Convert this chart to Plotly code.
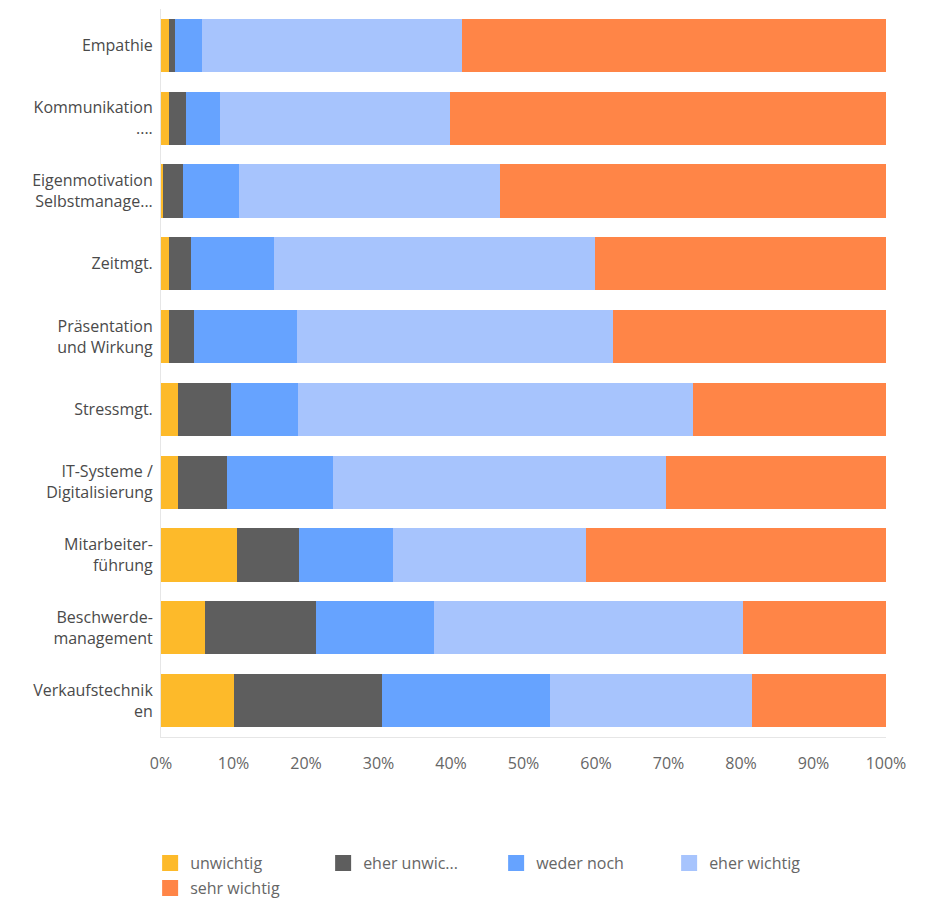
import plotly.graph_objects as go

categories = [
    "Empathie",
    "Kommunikation<br>....",
    "Eigenmotivation<br>Selbstmanage...",
    "Zeitmgt.",
    "Präsentation<br>und Wirkung",
    "Stressmgt.",
    "IT-Systeme /<br>Digitalisierung",
    "Mitarbeiter-<br>führung",
    "Beschwerde-<br>management",
    "Verkaufstechnik<br>en",
]

series_names = ["unwichtig", "eher unwic...", "weder noch", "eher wichtig", "sehr wichtig"]

unwichtig    = [1.1, 1.1, 0.3, 1.1, 1.1, 2.4, 2.4, 10.5, 6.0, 10.1]
eher_unwic   = [0.8, 2.3, 2.7, 3.1, 3.5, 7.2, 6.7, 8.5, 15.4, 20.4]
weder_noch   = [3.8, 4.7, 7.7, 11.4, 14.2, 9.3, 14.6, 13.0, 16.3, 23.2]
eher_wichtig = [35.8, 31.8, 36.1, 44.3, 43.6, 54.5, 45.9, 26.6, 42.6, 27.8]
sehr_wichtig = [58.5, 60.1, 53.2, 40.1, 37.6, 26.6, 30.4, 41.4, 19.7, 18.5]

tick_vals = [0, 10, 20, 30, 40, 50, 60, 70, 80, 90, 100]
tick_text = [f"{v}%" for v in tick_vals]

colors = ["#FDBA2A", "#5E5E5E", "#66A3FF", "#A7C4FD", "#FF8547"]
values = [unwichtig, eher_unwic, weder_noch, eher_wichtig, sehr_wichtig]
legend_ids = ["legend", "legend", "legend", "legend", "legend2"]

FONT = "Open Sans"

fig = go.Figure()
for name, vals, col in zip(series_names, values, colors):
    fig.add_trace(go.Bar(
        y=categories, x=vals, name=name, orientation="h",
        marker=dict(color=col, line=dict(width=0)),
        showlegend=False,
    ))
# legend entries with larger square swatches
for name, col, lg in zip(series_names, colors, legend_ids):
    fig.add_trace(go.Scatter(
        x=[None], y=[None], mode="markers", name=name,
        marker=dict(symbol="square", size=19, color=col),
        showlegend=True, legend=lg,
    ))

legend_style = dict(
    orientation="h", x=-0.015, xanchor="left", yanchor="top",
    entrywidth=128, entrywidthmode="pixels", traceorder="normal",
    font=dict(size=16, color="#666666"), itemsizing="trace",
    tracegroupgap=0, bgcolor="rgba(0,0,0,0)",
)

fig.update_layout(
    width=938, height=901,
    barmode="stack",
    bargap=0.27,
    plot_bgcolor="white", paper_bgcolor="white",
    margin=dict(l=153, r=60, t=1, b=172, autoexpand=False),
    font=dict(family=FONT, size=17, color="#555555"),
    xaxis=dict(
        range=[0, 100], tickvals=tick_vals, ticktext=tick_text,
        showgrid=False, zeroline=False, showline=True, linecolor="#e6e6e6",
        tickfont=dict(size=16, color="#666666"), ticks="", ticklabelstandoff=12,
        fixedrange=True,
    ),
    yaxis=dict(
        categoryorder="array", categoryarray=categories, autorange="reversed",
        showgrid=False, zeroline=False, showline=True, linecolor="#e6e6e6",
        tickfont=dict(size=16, color="#4a4a4a"), ticks="", ticklabelstandoff=4,
    ),
    legend=dict(legend_style, y=-0.15),
    legend2=dict(legend_style, y=-0.1843),
)

fig.write_html("out.html")
